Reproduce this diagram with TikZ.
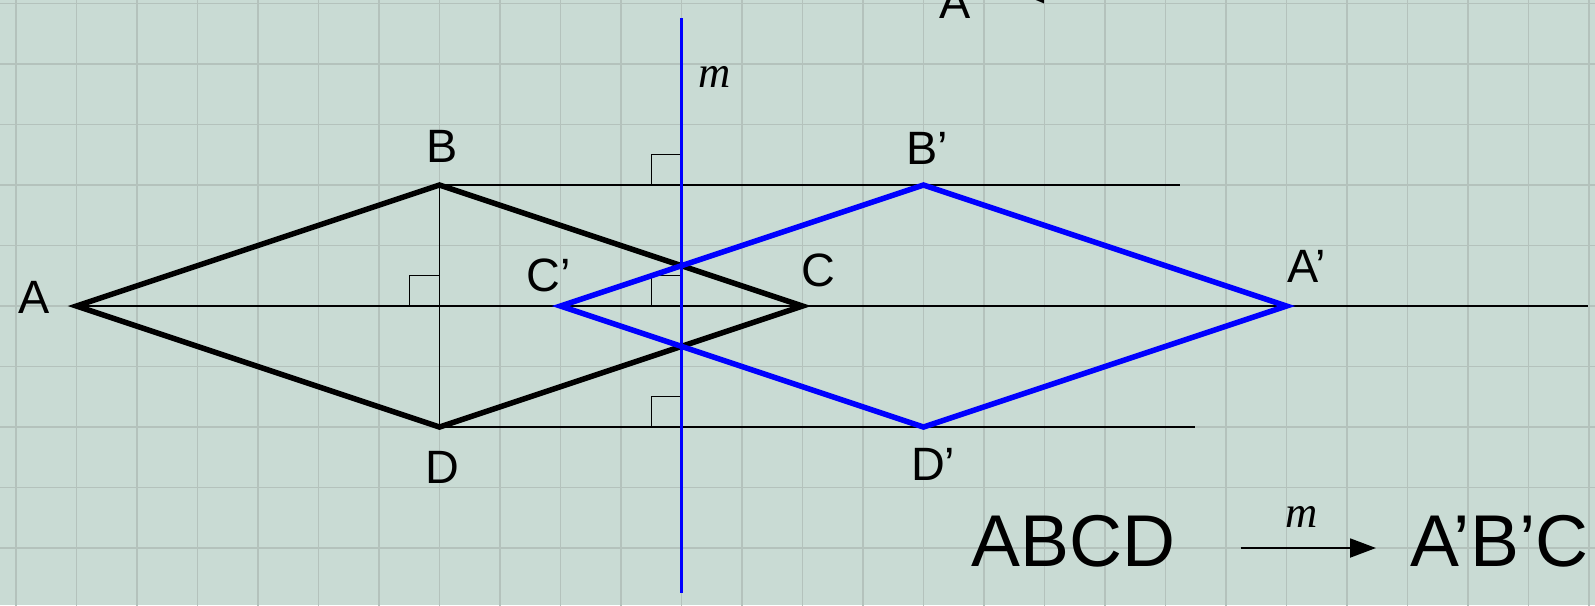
\documentclass[tikz,border=0pt]{standalone}
\usepackage{fontspec}
\setmainfont{Liberation Sans}
\newfontfamily\serifit{Liberation Serif}
\usetikzlibrary{arrows.meta}
\definecolor{paper}{HTML}{C9DBD4}
\definecolor{gridgray}{HTML}{B4C2BC}
\definecolor{mirrorblue}{HTML}{0000FF}
\tikzset{
  ptlabel/.style={font=\fontsize{22}{26}\selectfont, inner sep=0pt},
  mlabel/.style={font=\fontsize{21}{25}\selectfont\serifit\itshape, inner sep=0pt},
  biglabel/.style={font=\fontsize{34.5}{40}\selectfont, inner sep=0pt, anchor=base west},
  gridline/.style={draw=gridgray, line width=0.7pt},
  guide/.style={draw=black, line width=0.75pt},
  origshape/.style={draw=black, line width=2.6pt, line join=miter},
  imgshape/.style={origshape, draw=mirrorblue},
  mirrorline/.style={draw=mirrorblue, line width=1.7pt},
  rightangle/.style={draw=black, line width=0.65pt},
}

\begin{document}
\begin{tikzpicture}
    \useasboundingbox (-0.264, 0.058) rectangle (26.099, -9.942);
    \fill[paper] (-0.264, 0.058) rectangle (26.099, -9.942);
    \clip (-0.264, 0.058) rectangle (26.099, -9.942);
    \draw[gridline] (-1, 1) grid (27, -11);

    % vertices
    \coordinate (A) at (1, -5);
    \coordinate (B) at (7, -3);
    \coordinate (C) at (13, -5);
    \coordinate (D) at (7, -7);
    \coordinate (A1) at (21, -5);
    \coordinate (B1) at (15, -3);
    \coordinate (C1) at (9, -5);
    \coordinate (D1) at (15, -7);
    \coordinate (mTop) at (11, -0.245);
    \coordinate (mBot) at (11, -9.74);
    \coordinate (topEnd) at (19.24, -3);
    \coordinate (midEnd) at (25.98, -5);
    \coordinate (botEnd) at (19.49, -7);

    % guide lines
    \draw[guide] (B) -- (topEnd);
    \draw[guide] (A) -- (midEnd);
    \draw[guide] (D) -- (botEnd);
    \draw[guide] (B) -- (D);

    % right angle marks
    \draw[rightangle] (10.5, -3) -- (10.5, -2.5) -- (11, -2.5);
    \draw[rightangle] (6.5, -5) -- (6.5, -4.5) -- (7, -4.5);
    \draw[rightangle] (10.5, -5) -- (10.5, -4.5) -- (11, -4.5);
    \draw[rightangle] (10.5, -7) -- (10.5, -6.5) -- (11, -6.5);

    % shapes and mirror
    \draw[origshape] (A) -- (B) -- (C) -- (D) -- cycle;
    \draw[imgshape] (A1) -- (B1) -- (C1) -- (D1) -- cycle;
    \draw[mirrorline] (mTop) -- (mBot);

    % labels
    \node[ptlabel] (lA) at (0.30, -4.85) {A};
    \node[ptlabel] (lB) at (7.05, -2.36) {B};
    \node[ptlabel] (lC) at (13.27, -4.41) {C};
    \node[ptlabel] (lD) at (7.05, -7.66) {D};
    \node[ptlabel] (lA1) at (21.33, -4.35) {A'};
    \node[ptlabel] (lB1) at (15.06, -2.40) {B'};
    \node[ptlabel] (lC1) at (8.80, -4.49) {C'};
    \node[ptlabel] (lD1) at (15.16, -7.61) {D'};
    \node[mlabel] (lm) at (11.55, -1.21) {m};

    % top line, cut off
    \node[ptlabel, anchor=base] (topA) at (15.53, -0.256) {A};
    \node[ptlabel, anchor=base east] (topLt) at (17.04, -0.06) {<};

    % mapping
    \node[biglabel] (src) at (15.79, -9.31) {ABCD};
    \node[biglabel] (dst) at (23.04, -9.31) {A'B'C};
    \coordinate (arrS) at (20.24, -9.0);
    \coordinate (arrE) at (22.48, -9.0);
    \draw[line width=1.3pt, -{Triangle[length=0.43cm, width=0.31cm]}] (arrS) -- (arrE);
    \node[mlabel] (lmap) at (21.25, -8.48) {m};
  \end{tikzpicture}
\end{document}
